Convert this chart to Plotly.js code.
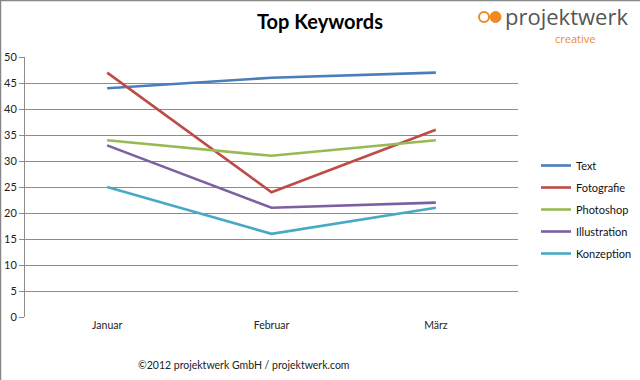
<!DOCTYPE html>
<html><head><meta charset="utf-8">
<script src="https://cdn.plot.ly/plotly-3.0.1.min.js"></script>
<style>html,body{margin:0;padding:0;background:#fff}#chart{width:640px;height:380px}</style>
</head><body><div id="chart"></div>
<script>
const months = ["Januar", "Februar", "März"];
const seriesNames = ["Text", "Fotografie", "Photoshop", "Illustration", "Konzeption"];
const textVals = [44, 46, 47];
const fotografieVals = [47, 24, 36];
const photoshopVals = [34, 31, 34];
const illustrationVals = [33, 21, 22];
const konzeptionVals = [25, 16, 21];
const yTicks = [0, 5, 10, 15, 20, 25, 30, 35, 40, 45, 50];

const allVals = [textVals, fotografieVals, photoshopVals, illustrationVals, konzeptionVals];
const colors = ["#4A7EBB", "#BE4B48", "#98B954", "#7D60A0", "#46AAC5"];
const FONT = "Lato, 'Open Sans', sans-serif";

const traces = seriesNames.map((n, i) => ({
  type: "scatter", mode: "lines", name: n, x: months, y: allVals[i],
  legendgroup: "g" + i,
  line: {color: colors[i], width: 2.6}
}));

const L = 25, R = 122, T = 57, B = 63, W = 640, H = 380;
const pw = W - L - R, ph = H - T - B;
const px = v => (v - L) / pw;        // pixel x -> paper
const py = v => (H - B - v) / ph;    // pixel y -> paper

const layout = {
  width: W, height: H,
  margin: {l: L, r: R, t: T, b: B, autoexpand: false},
  paper_bgcolor: "#fff", plot_bgcolor: "#fff",
  font: {family: FONT, size: 11, color: "#222"},
  title: {text: "<b>Top Keywords</b>", x: 0.5, xanchor: "center", y: 1 - 22 / H, yanchor: "middle",
          font: {family: FONT, size: 20, color: "#000"}},
  xaxis: {type: "category", range: [-0.5, 2.5], showgrid: false, zeroline: false,
          showline: false, ticks: "", tickfont: {size: 10.5, color: "#222"}, ticklen: 0},
  yaxis: {range: [0, 50], tickvals: yTicks, ticktext: yTicks.map(String),
          showgrid: true, gridcolor: "#8c8c8c", gridwidth: 1, zeroline: false,
          showline: true, linecolor: "#8c8c8c", linewidth: 1,
          ticks: "outside", ticklen: 5, tickcolor: "#8c8c8c",
          tickfont: {size: 11, color: "#222"}},
  showlegend: true,
  legend: {x: px(536), xanchor: "left", y: py(151), yanchor: "top",
           font: {family: FONT, size: 11, color: "#111"}, tracegroupgap: 3,
           bgcolor: "rgba(0,0,0,0)", itemwidth: 30},
  shapes: [
    {type: "line", xref: "paper", yref: "paper", x0: px(0.5), x1: px(0.5), y0: py(0), y1: py(H), line: {color: "#888", width: 1.5}},
    {type: "line", xref: "paper", yref: "paper", x0: px(0), x1: px(W), y0: py(0.5), y1: py(0.5), line: {color: "#888", width: 1.5}},
    {type: "circle", xref: "paper", yref: "paper", x0: px(479), x1: px(489), y0: py(12), y1: py(22), line: {color: "#F08A24", width: 2}, fillcolor: "#fff"},
    {type: "circle", xref: "paper", yref: "paper", x0: px(490), x1: px(501), y0: py(11.5), y1: py(22.5), line: {color: "#F08A24", width: 1}, fillcolor: "#F08A24"}
  ],
  annotations: [
    {text: "projektwerk", xref: "paper", yref: "paper", x: px(503), y: py(16), xanchor: "left", yanchor: "middle",
     showarrow: false, font: {family: "'Open Sans', sans-serif", size: 22, color: "#555"}},
    {text: "creative", xref: "paper", yref: "paper", x: px(553), y: py(38), xanchor: "left", yanchor: "middle",
     showarrow: false, font: {family: "'Open Sans', sans-serif", size: 11, color: "#F08A24"}},
    {text: "©2012 projektwerk GmbH / projektwerk.com", xref: "paper", yref: "paper", x: px(136), y: py(365), xanchor: "left", yanchor: "middle",
     showarrow: false, font: {family: FONT, size: 10.5, color: "#222"}}
  ]
};

Plotly.newPlot("chart", traces, layout, {displayModeBar: false, staticPlot: true});
</script></body></html>
